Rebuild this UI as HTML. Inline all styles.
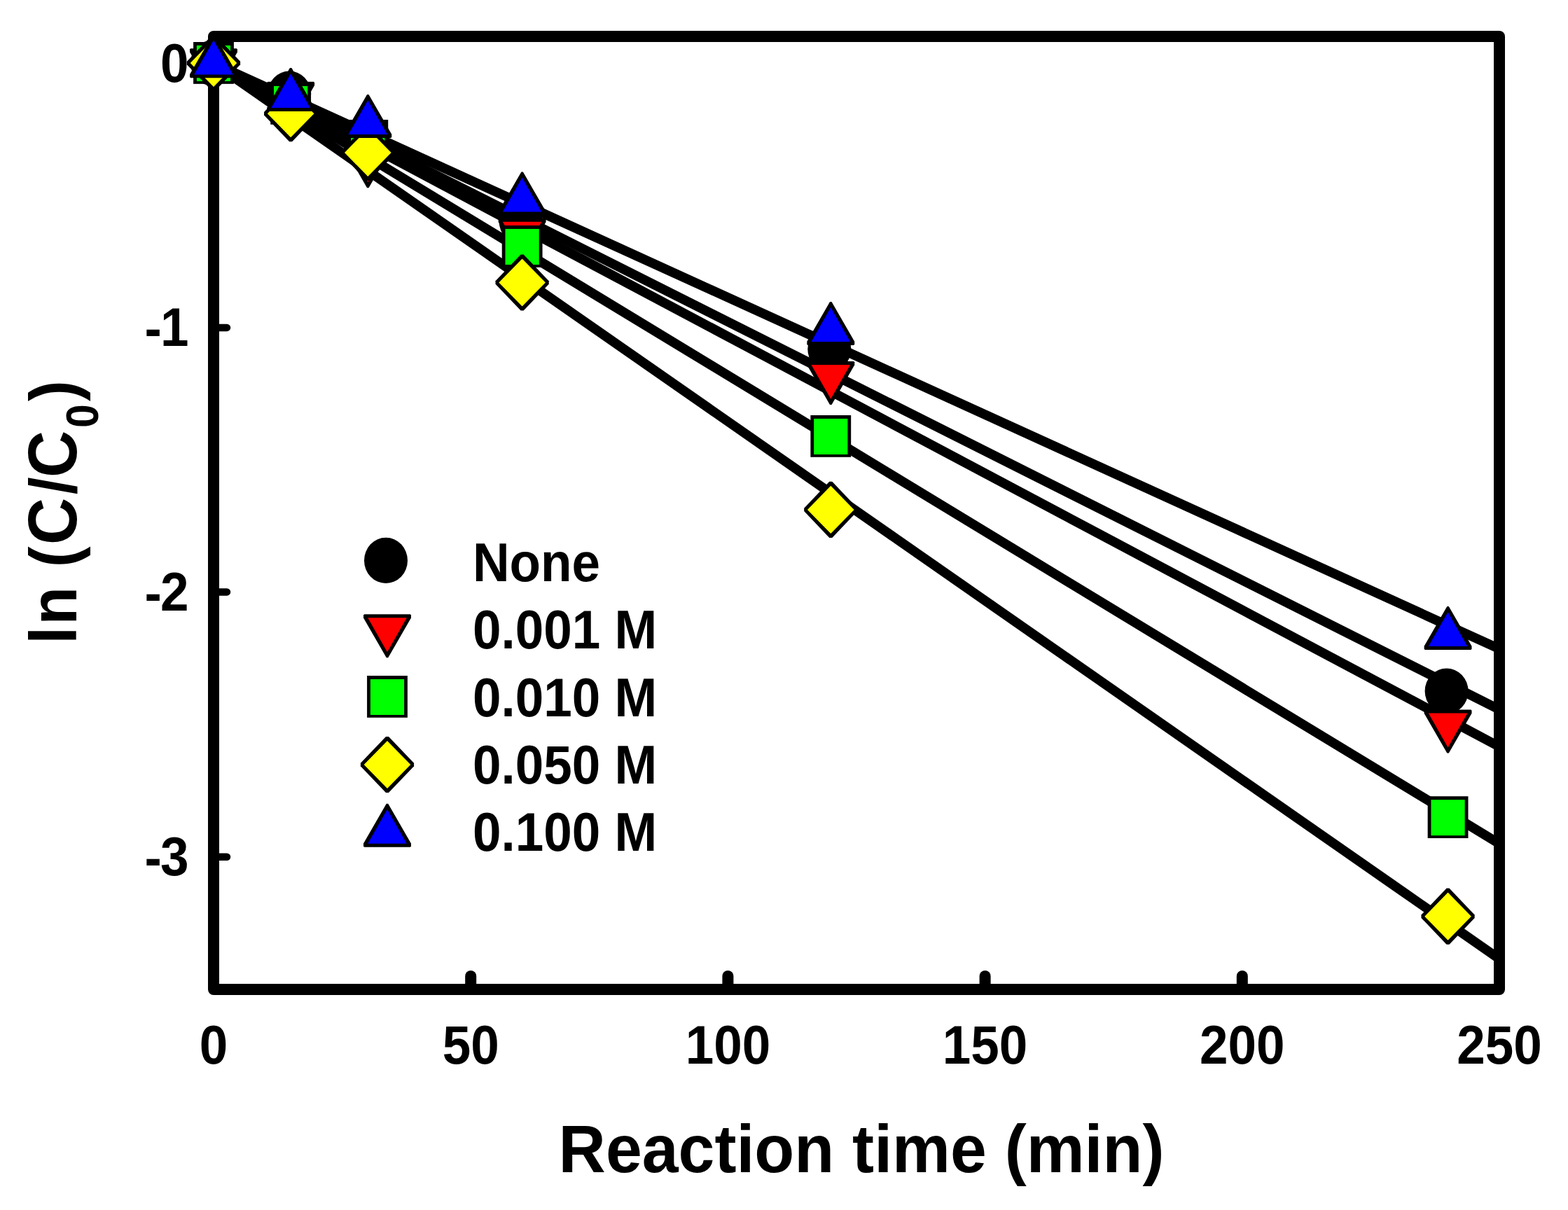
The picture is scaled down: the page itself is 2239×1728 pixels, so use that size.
<!DOCTYPE html><html><head><meta charset="utf-8"><title>ln(C/C0) vs reaction time</title>
<style>html,body{margin:0;padding:0;background:#fff;}svg{display:block;}text{font-family:"Liberation Sans",Arial,sans-serif;font-weight:bold;fill:#000;}</style></head><body>
<svg width="2239" height="1728" viewBox="0 0 2239 1728">
<rect x="0" y="0" width="2239" height="1728" fill="#fff"/>
<defs><clipPath id="pc"><rect x="305" y="52" width="1836" height="1361"/></clipPath></defs>
<g clip-path="url(#pc)" stroke="#000" stroke-width="13.5" fill="none" stroke-linecap="butt">
<line x1="305" y1="90.3" x2="2141" y2="926.7"/>
<line x1="305" y1="90.3" x2="2141" y2="1013.3"/>
<line x1="305" y1="90.3" x2="2141" y2="1066.3"/>
<line x1="305" y1="90.3" x2="2141" y2="1204.9"/>
<line x1="305" y1="90.3" x2="2141" y2="1369.4"/>
</g>
<rect x="305" y="52" width="1836" height="1361" fill="none" stroke="#000" stroke-width="16" stroke-linejoin="round"/>
<g stroke="#000" stroke-linecap="round">
<line x1="305" y1="467.9" x2="324" y2="467.9" stroke-width="10.5"/>
<line x1="305" y1="845.4" x2="324" y2="845.4" stroke-width="10.5"/>
<line x1="305" y1="1223.8" x2="324" y2="1223.8" stroke-width="10.5"/>
<line x1="672.2" y1="1413" x2="672.2" y2="1394" stroke-width="16"/>
<line x1="1039.4" y1="1413" x2="1039.4" y2="1394" stroke-width="16"/>
<line x1="1406.6" y1="1413" x2="1406.6" y2="1394" stroke-width="16"/>
<line x1="1773.8" y1="1413" x2="1773.8" y2="1394" stroke-width="16"/>
</g>
<text transform="translate(269.5 116.5) scale(0.94 1)" font-size="77.5" text-anchor="end">0</text>
<text transform="translate(269.5 494) scale(0.94 1)" font-size="77.5" text-anchor="end"><tspan dy="2.3">-</tspan><tspan dy="-2.3" dx="-1.8">1</tspan></text>
<text transform="translate(269.5 872) scale(0.94 1)" font-size="77.5" text-anchor="end"><tspan dy="2.3">-</tspan><tspan dy="-2.3" dx="-1.8">2</tspan></text>
<text transform="translate(269.5 1250) scale(0.94 1)" font-size="77.5" text-anchor="end"><tspan dy="2.3">-</tspan><tspan dy="-2.3" dx="-1.8">3</tspan></text>
<text transform="translate(305.0 1519) scale(0.94 1)" font-size="77.5" text-anchor="middle">0</text>
<text transform="translate(672.2 1519) scale(0.94 1)" font-size="77.5" text-anchor="middle">50</text>
<text transform="translate(1039.4 1519) scale(0.94 1)" font-size="77.5" text-anchor="middle">100</text>
<text transform="translate(1406.6 1519) scale(0.94 1)" font-size="77.5" text-anchor="middle">150</text>
<text transform="translate(1773.8 1519) scale(0.94 1)" font-size="77.5" text-anchor="middle">200</text>
<text transform="translate(2141.0 1519) scale(0.94 1)" font-size="77.5" text-anchor="middle">250</text>
<text transform="translate(1230 1673.5) scale(0.971 1)" font-size="96" text-anchor="middle">Reaction time (min)</text>
<text transform="translate(108.9 0) rotate(-90) scale(0.95 1)" font-size="94"><tspan x="-968.3" y="0">l</tspan><tspan x="-939.4" y="0">n</tspan><tspan x="-873.7" y="0"> </tspan><tspan x="-852.8" y="0">(</tspan><tspan x="-819.0" y="0" font-size="98">C</tspan><tspan x="-743.4" y="0">/</tspan><tspan x="-718.0" y="0" font-size="98">C</tspan><tspan x="-643.1" y="31.4" font-size="64">0</tspan><tspan x="-603.1" y="0">)</tspan></text>
<g>
<ellipse cx="303.0" cy="90.0" rx="31" ry="32.6" fill="#000"/>
<ellipse cx="413.2" cy="134.0" rx="31" ry="32.6" fill="#000"/>
<ellipse cx="523.3" cy="200.0" rx="31" ry="32.6" fill="#000"/>
<ellipse cx="743.6" cy="316.0" rx="31" ry="32.6" fill="#000"/>
<ellipse cx="1184.3" cy="498.5" rx="31" ry="32.6" fill="#000"/>
<ellipse cx="2065.6" cy="987.0" rx="31" ry="32.6" fill="#000"/>
<g><polygon points="303.76,131.20 306.24,131.20 338.95,74.55 338.95,70.50 337.80,69.30 272.20,69.30 271.05,70.50 271.05,74.55" fill="#000"/><polygon points="305.00,123.15 332.80,74.20 277.20,74.20" fill="#ff0000"/></g>
<g><polygon points="413.92,178.60 416.40,178.60 449.11,121.95 449.11,117.90 447.96,116.70 382.36,116.70 381.21,117.90 381.21,121.95" fill="#000"/><polygon points="415.16,170.55 442.96,121.60 387.36,121.60" fill="#ff0000"/></g>
<g><polygon points="524.08,268.20 526.56,268.20 559.27,211.55 559.27,207.50 558.12,206.30 492.52,206.30 491.37,207.50 491.37,211.55" fill="#000"/><polygon points="525.32,260.15 553.12,211.20 497.52,211.20" fill="#ff0000"/></g>
<g><polygon points="744.40,373.70 746.88,373.70 779.59,317.05 779.59,313.00 778.44,311.80 712.84,311.80 711.69,313.00 711.69,317.05" fill="#000"/><polygon points="745.64,365.65 773.44,316.70 717.84,316.70" fill="#ff0000"/></g>
<g><polygon points="1185.04,577.90 1187.52,577.90 1220.23,521.25 1220.23,517.20 1219.08,516.00 1153.48,516.00 1152.33,517.20 1152.33,521.25" fill="#000"/><polygon points="1186.28,569.85 1214.08,520.90 1158.48,520.90" fill="#ff0000"/></g>
<g><polygon points="2066.32,1075.50 2068.80,1075.50 2101.51,1018.85 2101.51,1014.80 2100.36,1013.60 2034.76,1013.60 2033.61,1014.80 2033.61,1018.85" fill="#000"/><polygon points="2067.56,1067.45 2095.36,1018.50 2039.76,1018.50" fill="#ff0000"/></g>
<g><rect x="276.10" y="60.00" width="57.8" height="59.8" fill="#000"/><rect x="280.90" y="64.90" width="48.2" height="51.1" fill="#00ff00"/></g>
<g><rect x="386.26" y="118.00" width="57.8" height="59.8" fill="#000"/><rect x="391.06" y="122.90" width="48.2" height="51.1" fill="#00ff00"/></g>
<g><rect x="496.42" y="171.00" width="57.8" height="59.8" fill="#000"/><rect x="501.22" y="175.90" width="48.2" height="51.1" fill="#00ff00"/></g>
<g><rect x="716.74" y="322.00" width="57.8" height="59.8" fill="#000"/><rect x="721.54" y="326.90" width="48.2" height="51.1" fill="#00ff00"/></g>
<g><rect x="1157.38" y="593.00" width="57.8" height="59.8" fill="#000"/><rect x="1162.18" y="597.90" width="48.2" height="51.1" fill="#00ff00"/></g>
<g><rect x="2038.66" y="1137.20" width="57.8" height="59.8" fill="#000"/><rect x="2043.46" y="1142.10" width="48.2" height="51.1" fill="#00ff00"/></g>
<g><polygon points="303.00,49.90 307.00,49.90 343.10,87.80 343.10,92.20 307.00,130.10 303.00,130.10 266.90,92.20 266.90,87.80" fill="#000"/><polygon points="305.00,55.90 338.30,90.00 305.00,124.10 271.70,90.00" fill="#ffff00"/></g>
<g><polygon points="413.16,122.10 417.16,122.10 453.26,160.00 453.26,164.40 417.16,202.30 413.16,202.30 377.06,164.40 377.06,160.00" fill="#000"/><polygon points="415.16,128.10 448.46,162.20 415.16,196.30 381.86,162.20" fill="#ffff00"/></g>
<g><polygon points="523.32,177.90 527.32,177.90 563.42,215.80 563.42,220.20 527.32,258.10 523.32,258.10 487.22,220.20 487.22,215.80" fill="#000"/><polygon points="525.32,183.90 558.62,218.00 525.32,252.10 492.02,218.00" fill="#ffff00"/></g>
<g><polygon points="743.64,363.40 747.64,363.40 783.74,401.30 783.74,405.70 747.64,443.60 743.64,443.60 707.54,405.70 707.54,401.30" fill="#000"/><polygon points="745.64,369.40 778.94,403.50 745.64,437.60 712.34,403.50" fill="#ffff00"/></g>
<g><polygon points="1184.28,687.80 1188.28,687.80 1224.38,725.70 1224.38,730.10 1188.28,768.00 1184.28,768.00 1148.18,730.10 1148.18,725.70" fill="#000"/><polygon points="1186.28,693.80 1219.58,727.90 1186.28,762.00 1152.98,727.90" fill="#ffff00"/></g>
<g><polygon points="2065.56,1268.60 2069.56,1268.60 2105.66,1306.50 2105.66,1310.90 2069.56,1348.80 2065.56,1348.80 2029.46,1310.90 2029.46,1306.50" fill="#000"/><polygon points="2067.56,1274.60 2100.86,1308.70 2067.56,1342.80 2034.26,1308.70" fill="#ffff00"/></g>
<g><polygon points="303.76,49.40 306.24,49.40 338.95,106.05 338.95,110.10 337.80,111.30 272.20,111.30 271.05,110.10 271.05,106.05" fill="#000"/><polygon points="305.00,57.45 332.80,106.40 277.20,106.40" fill="#0000ff"/></g>
<g><polygon points="413.92,97.10 416.40,97.10 449.11,153.75 449.11,157.80 447.96,159.00 382.36,159.00 381.21,157.80 381.21,153.75" fill="#000"/><polygon points="415.16,105.15 442.96,154.10 387.36,154.10" fill="#0000ff"/></g>
<g><polygon points="524.08,135.10 526.56,135.10 559.27,191.75 559.27,195.80 558.12,197.00 492.52,197.00 491.37,195.80 491.37,191.75" fill="#000"/><polygon points="525.32,143.15 553.12,192.10 497.52,192.10" fill="#0000ff"/></g>
<g><polygon points="744.40,245.50 746.88,245.50 779.59,302.15 779.59,306.20 778.44,307.40 712.84,307.40 711.69,306.20 711.69,302.15" fill="#000"/><polygon points="745.64,253.55 773.44,302.50 717.84,302.50" fill="#0000ff"/></g>
<g><polygon points="1185.04,431.00 1187.52,431.00 1220.23,487.65 1220.23,491.70 1219.08,492.90 1153.48,492.90 1152.33,491.70 1152.33,487.65" fill="#000"/><polygon points="1186.28,439.05 1214.08,488.00 1158.48,488.00" fill="#0000ff"/></g>
<g><polygon points="2066.32,866.10 2068.80,866.10 2101.51,922.75 2101.51,926.80 2100.36,928.00 2034.76,928.00 2033.61,926.80 2033.61,922.75" fill="#000"/><polygon points="2067.56,874.15 2095.36,923.10 2039.76,923.10" fill="#0000ff"/></g>
</g>
<ellipse cx="551.0" cy="800.4" rx="31" ry="32.6" fill="#000"/>
<text transform="translate(675 830) scale(0.94 1)" font-size="77.5">None</text>
<g><polygon points="551.76,939.20 554.24,939.20 586.95,882.55 586.95,878.50 585.80,877.30 520.20,877.30 519.05,878.50 519.05,882.55" fill="#000"/><polygon points="553.00,931.15 580.80,882.20 525.20,882.20" fill="#ff0000"/></g>
<text transform="translate(675 926) scale(0.94 1)" font-size="77.5">0.001 M</text>
<g><rect x="524.10" y="965.00" width="57.8" height="59.8" fill="#000"/><rect x="528.90" y="969.90" width="48.2" height="51.1" fill="#00ff00"/></g>
<text transform="translate(675 1023.3) scale(0.94 1)" font-size="77.5">0.010 M</text>
<g><polygon points="551.00,1051.90 555.00,1051.90 591.10,1089.80 591.10,1094.20 555.00,1132.10 551.00,1132.10 514.90,1094.20 514.90,1089.80" fill="#000"/><polygon points="553.00,1057.90 586.30,1092.00 553.00,1126.10 519.70,1092.00" fill="#ffff00"/></g>
<text transform="translate(675 1119) scale(0.94 1)" font-size="77.5">0.050 M</text>
<g><polygon points="551.76,1147.80 554.24,1147.80 586.95,1204.45 586.95,1208.50 585.80,1209.70 520.20,1209.70 519.05,1208.50 519.05,1204.45" fill="#000"/><polygon points="553.00,1155.85 580.80,1204.80 525.20,1204.80" fill="#0000ff"/></g>
<text transform="translate(675 1215) scale(0.94 1)" font-size="77.5">0.100 M</text>
</svg></body></html>
